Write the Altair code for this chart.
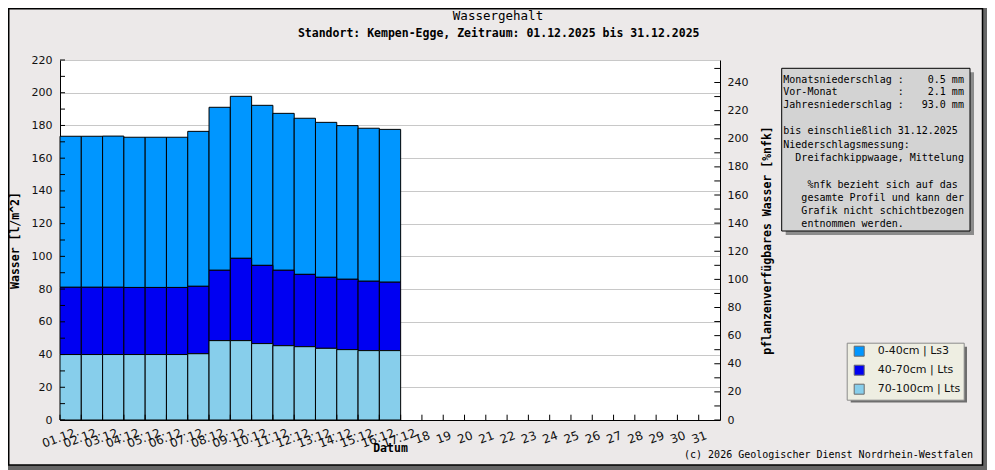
import json
import altair as alt
import pandas as pd

# ---------------- data ----------------
days = [1, 2, 3, 4, 5, 6, 7, 8, 9, 10, 11, 12, 13, 14, 15, 16]
w_0_40 = [92.3, 92.3, 92.4, 91.8, 91.8, 91.8, 94.7, 99.6, 99.0, 97.8, 95.9, 95.4, 94.7, 93.9, 93.5, 93.4]
w_40_70 = [41.1, 41.1, 41.1, 41.0, 41.0, 41.0, 41.2, 43.0, 50.3, 47.8, 46.1, 44.2, 43.4, 43.0, 42.4, 41.8]
w_70_100 = [40.0, 40.0, 40.0, 40.0, 40.0, 40.0, 40.5, 48.5, 48.5, 46.7, 45.4, 44.8, 43.8, 43.0, 42.4, 42.4]

layer_names = ["0-40cm | Ls3", "40-70cm | Lts", "70-100cm | Lts"]
layer_colors = ["#0096FF", "#0000F2", "#87CEEB"]
stack_rank = [2, 1, 0]  # 70-100cm at the bottom

day_ticks = [1, 2, 3, 4, 5, 6, 7, 8, 9, 10, 11, 12, 13, 14, 15, 16, 17, 18, 19, 20,
             21, 22, 23, 24, 25, 26, 27, 28, 29, 30, 31]
day_labels = ["01.12.", "02.12.", "03.12.", "04.12.", "05.12.", "06.12.", "07.12.",
              "08.12.", "09.12.", "10.12.", "11.12.", "12.12.", "13.12.", "14.12.",
              "15.12.", "16.12.", "17.12.", "18", "19", "20", "21", "22", "23", "24",
              "25", "26", "27", "28", "29", "30", "31"]
left_ticks = [0, 10, 20, 30, 40, 50, 60, 70, 80, 90, 100, 110, 120, 130, 140, 150,
              160, 170, 180, 190, 200, 210, 220]
left_labels = [0, 20, 40, 60, 80, 100, 120, 140, 160, 180, 200, 220]
right_ticks = [0, 10, 20, 30, 40, 50, 60, 70, 80, 90, 100, 110, 120, 130, 140, 150,
               160, 170, 180, 190, 200, 210, 220, 230, 240, 250]
right_labels = [0, 20, 40, 60, 80, 100, 120, 140, 160, 180, 200, 220, 240]

title_text = "Wassergehalt"
subtitle_text = "Standort: Kempen-Egge, Zeitraum: 01.12.2025 bis 31.12.2025"
copyright_text = "(c) 2026 Geologischer Dienst Nordrhein-Westfalen"
info_block_1 = [
    "Monatsniederschlag :    0.5 mm",
    "Vor-Monat          :    2.1 mm",
    "Jahresniederschlag :   93.0 mm",
]
info_block_2 = [
    "bis einschließlich 31.12.2025",
    "Niederschlagsmessung:",
    "  Dreifachkippwaage, Mittelung",
]
info_block_3 = [
    "    %nfk bezieht sich auf das",
    "   gesamte Profil und kann der",
    "   Grafik nicht schichtbezogen",
    "   entnommen werden.",
]


def keep_blanks(lines):
    # zero-width space stops trimming, no-break spaces keep the monospace columns
    return ["\u200b" + s.replace(" ", "\u00a0") for s in lines]


rows = []
for name, vals, rank in zip(layer_names, [w_0_40, w_40_70, w_70_100], stack_rank):
    for d, v in zip(days, vals):
        rows.append({"day": d, "schicht": name, "wert": v, "rang": rank})
df = pd.DataFrame(rows)

MONO = "DejaVu Sans Mono"
SANS = "DejaVu Sans"
W, H = 660, 360

one = pd.DataFrame({"k": [0]})


def box(x, x2, y, y2, **kw):
    return alt.Chart(one).mark_rect(**kw).encode(
        x=alt.value(x), x2=alt.value(x2), y=alt.value(y), y2=alt.value(y2))


def txt(text, x, y, **kw):
    return alt.Chart(one).mark_text(text=text, **kw).encode(x=alt.value(x), y=alt.value(y))


xscale = alt.Scale(domain=[1, 32], nice=False, zero=False)
yscale = alt.Scale(domain=[0, 220], nice=False)
rscale = alt.Scale(domain=[0, 256], nice=False)

# ---------------- decorations ----------------
shadow_r = box(922.5, 930, -55, 410, color="#666666")
shadow_b = box(-55, 930, 405, 410, color="#666666")
frame = box(-51.25, 922.5, -51.25, 405, fillOpacity=0, stroke="black", strokeWidth=1.5)
info_shadow = box(725.7, 914, 12.3, 175, color="#8c8c8c")
info_box = box(721.7, 910, 8.3, 171, color="#d3d3d3", stroke="black", strokeWidth=1)
info_kw = dict(font=MONO, fontSize=10, align="left", baseline="alphabetic", color="black")
info_t1 = txt(keep_blanks(info_block_1), 723.3, 22.8, lineHeight=12.6, **info_kw)
info_t2 = txt(keep_blanks(info_block_2), 723.3, 74.4, lineHeight=13.4, **info_kw)
info_t3 = txt(keep_blanks(info_block_3), 723.3, 128.2, lineHeight=13.1, **info_kw)
legend_shadow = box(790.7, 907, 286.7, 342.5, color="#6e6e6e")
title_mark = txt(title_text, 438, -44, font=MONO, fontSize=12.5, align="center",
                 baseline="middle", color="black")
subtitle_mark = txt(subtitle_text, 438.7, -26.3, font=MONO, fontSize=11.5, fontWeight="bold",
                    align="center", baseline="middle", color="black")
copyright_mark = txt(copyright_text, 913, 395, font=MONO, fontSize=10, align="right",
                     baseline="middle", color="black")

# ---------------- bars ----------------
bars = alt.Chart(df).transform_stack(
    stack="wert", groupby=["day"], sort=[alt.SortField("rang", order="ascending")],
    as_=["y0", "y1"]
).transform_calculate(day_end="datum.day + 1").mark_bar(
    stroke="black", strokeWidth=1
).encode(
    x=alt.X("day:Q", scale=xscale, axis=alt.Axis(
        values=day_ticks,
        labelExpr=json.dumps(day_labels) + "[datum.value - 1]",
        labelAngle=340, labelAlign="center", labelBaseline="middle", labelPadding=17,
        labelOverlap=False, labelFlush=False, labelBound=False,
        labelFont=SANS, labelFontSize=12, labelColor="#111",
        ticks=False, grid=False, domainColor="black", domainWidth=1,
        title="Datum", titleFont=MONO, titleFontSize=11.5, titleFontWeight="bold",
        titleColor="black", titleY=28.3, titleBaseline="middle")),
    x2="day_end:Q",
    y=alt.Y("y0:Q", scale=yscale, axis=alt.Axis(
        values=left_labels, ticks=False, grid=True, gridColor="#c8c8c8", gridWidth=1,
        domainColor="black", domainWidth=1,
        labelFont=SANS, labelFontSize=11, labelColor="#111", labelPadding=8,
        title="Wasser [l/m^2]", titleFont=MONO, titleFontSize=11.5, titleFontWeight="bold",
        titleColor="black", titleX=-45, titleY=180, titleAngle=270,
        titleAlign="center", titleBaseline="middle")),
    y2="y1:Q",
    color=alt.Color("schicht:N", scale=alt.Scale(domain=layer_names, range=layer_colors),
                    legend=alt.Legend(
                        title=None, orient="none", legendX=786.7, legendY=282.7,
                        fillColor="#eeeee2", strokeColor="#8a8a8a", padding=3, rowPadding=4,
                        symbolOffset=4,
                        symbolType="square", symbolSize=100, symbolStrokeColor="#6a6a6a",
                        symbolStrokeWidth=1, symbolOpacity=1,
                        labelFont=SANS, labelFontSize=11, labelColor="#111",
                        labelOffset=13, zindex=1)),
)

left_tick_marks = alt.Chart(pd.DataFrame({"t": left_ticks})).mark_rule(
    color="black", strokeWidth=1
).encode(y=alt.Y("t:Q", scale=yscale, axis=None), x=alt.value(0), x2=alt.value(5))

x_tick_marks = alt.Chart(pd.DataFrame({"d": day_ticks})).mark_rule(
    color="black", strokeWidth=1
).encode(x=alt.X("d:Q", scale=xscale, axis=None), y=alt.value(H), y2=alt.value(H - 5.3))

nfk = alt.Chart(pd.DataFrame({"t": right_ticks})).mark_rule(
    color="black", strokeWidth=1
).encode(
    y=alt.Y("t:Q", scale=rscale, axis=alt.Axis(
        orient="right", values=right_labels, ticks=False, grid=False,
        domainColor="black", domainWidth=1,
        labelFont=SANS, labelFontSize=11, labelColor="#111", labelPadding=7,
        title="pflanzenverfügbares Wasser [%nfk]", titleFont=MONO, titleFontSize=11.5,
        titleFontWeight="bold", titleColor="black", titleX=47, titleY=180,
        titleAngle=270, titleAlign="center", titleBaseline="middle")),
    x=alt.value(W - 5.7), x2=alt.value(W),
)

chart = alt.layer(
    shadow_r, shadow_b, frame, info_shadow, info_box, info_t1, info_t2, info_t3,
    legend_shadow, title_mark, subtitle_mark, copyright_mark,
    bars, left_tick_marks, x_tick_marks, nfk
).resolve_scale(x="independent", y="independent").properties(
    width=W, height=H,
    padding={"left": 52, "top": 52, "right": 267, "bottom": 50},
    autosize=alt.AutoSizeParams(type="none"),
    background="#ECE9E9",
).configure_view(strokeWidth=0, fill="white")

chart.save("out.html", embed_options={"renderer": "svg", "actions": False})
